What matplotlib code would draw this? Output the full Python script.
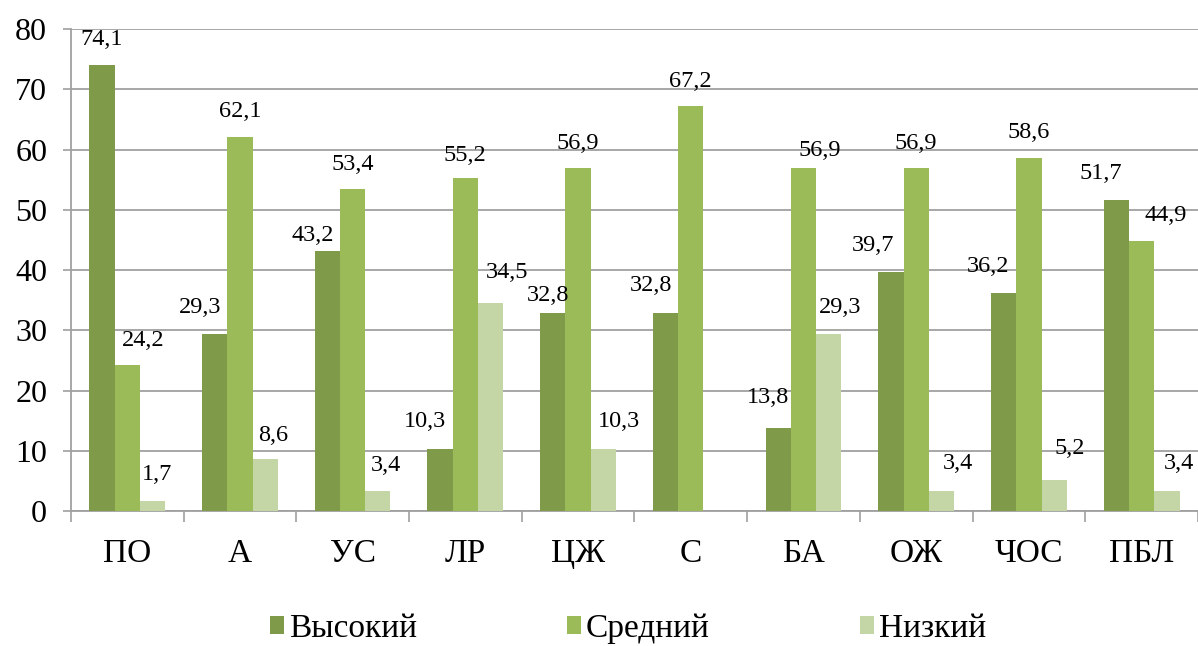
import matplotlib
matplotlib.use("Agg")
import matplotlib.pyplot as plt
import numpy as np
from matplotlib.patches import Patch
from matplotlib.ticker import FixedLocator

categories = ["ПО", "А", "УС", "ЛР", "ЦЖ", "С", "БА", "ОЖ", "ЧОС", "ПБЛ"]
series_names = ["Высокий", "Средний", "Низкий"]
high = [74.1, 29.3, 43.2, 10.3, 32.8, 32.8, 13.8, 39.7, 36.2, 51.7]
medium = [24.2, 62.1, 53.4, 55.2, 56.9, 67.2, 56.9, 56.9, 58.6, 44.9]
low = [1.7, 8.6, 3.4, 34.5, 10.3, None, 29.3, 3.4, 5.2, 3.4]
y_ticks = [0, 10, 20, 30, 40, 50, 60, 70, 80]

# styling
colors = ["#7F9A48", "#9BBB59", "#C5D6A6"]
label_dx = [
    [0, -15, -15, -15, -5, -15, -10, -18, -16, -16],
    [16, 0, 0, 0, 0, 0, 16, 0, 0, 24],
    [5, 8, 8, 16, 16, 0, 11, 16, 16, 12],
]
label_dy = [
    [25, 27, 15, 27, 18, 28, 30, 26, 26, 26],
    [25, 25, 25, 23, 25, 25, 18, 25, 25, 25],
    [26, 24, 25, 31, 27, 0, 27, 27, 31, 27],
]

plt.rcParams["font.family"] = ["Liberation Serif", "DejaVu Serif"]

fig = plt.figure(figsize=(11.98, 6.46), dpi=100)
ax = fig.add_axes([0.0591, 0.209, 0.9409, 0.746])

x = np.arange(len(categories))
width = 0.224
series = [high, medium, low]
for k, vals in enumerate(series):
    v = np.array([np.nan if a is None else a for a in vals], dtype=float)
    pos = x + (k - 1) * width
    ax.bar(pos, np.nan_to_num(v), width=width, color=colors[k], zorder=3,
           edgecolor="none")
    for i, val in enumerate(vals):
        if val is None:
            continue
        ax.annotate(f"{val:.1f}".replace(".", ","), (pos[i], val),
                    xytext=(label_dx[k][i], label_dy[k][i]),
                    textcoords="offset pixels", ha="center", va="center",
                    fontsize=17.5, color="black", zorder=5)

ax.set_xlim(-0.5, len(categories) - 0.5)
ax.set_ylim(0, 80)
ax.set_yticks(y_ticks)
ax.set_yticklabels([str(t) for t in y_ticks], fontsize=23)
ax.tick_params(axis="y", length=6, width=1.2, color="#A0A0A0", pad=11)

ax.set_xticks(x)
ax.set_xticklabels(categories, fontsize=24)
ax.tick_params(axis="x", which="major", length=0, pad=20)
ax.xaxis.set_minor_locator(FixedLocator(np.arange(len(categories) + 1) - 0.5))
ax.tick_params(axis="x", which="minor", length=8, width=1.2, color="#A0A0A0")

ax.grid(axis="y", color="#A0A0A0", linewidth=1.3, zorder=0)
ax.set_axisbelow(True)
for s in ["top", "right"]:
    ax.spines[s].set_visible(False)
for s in ["left", "bottom"]:
    ax.spines[s].set_color("#A0A0A0")
    ax.spines[s].set_linewidth(1.3)

handles = [Patch(facecolor=c, edgecolor="none") for c in colors]
fig.legend(handles, series_names, loc="center", bbox_to_anchor=(0.524, 0.027),
           ncol=3, frameon=False, fontsize=24, handlelength=0.42,
           handleheight=0.42, handletextpad=0.15, columnspacing=4.5,
           borderpad=0)

fig.savefig("out.png", dpi=100)
